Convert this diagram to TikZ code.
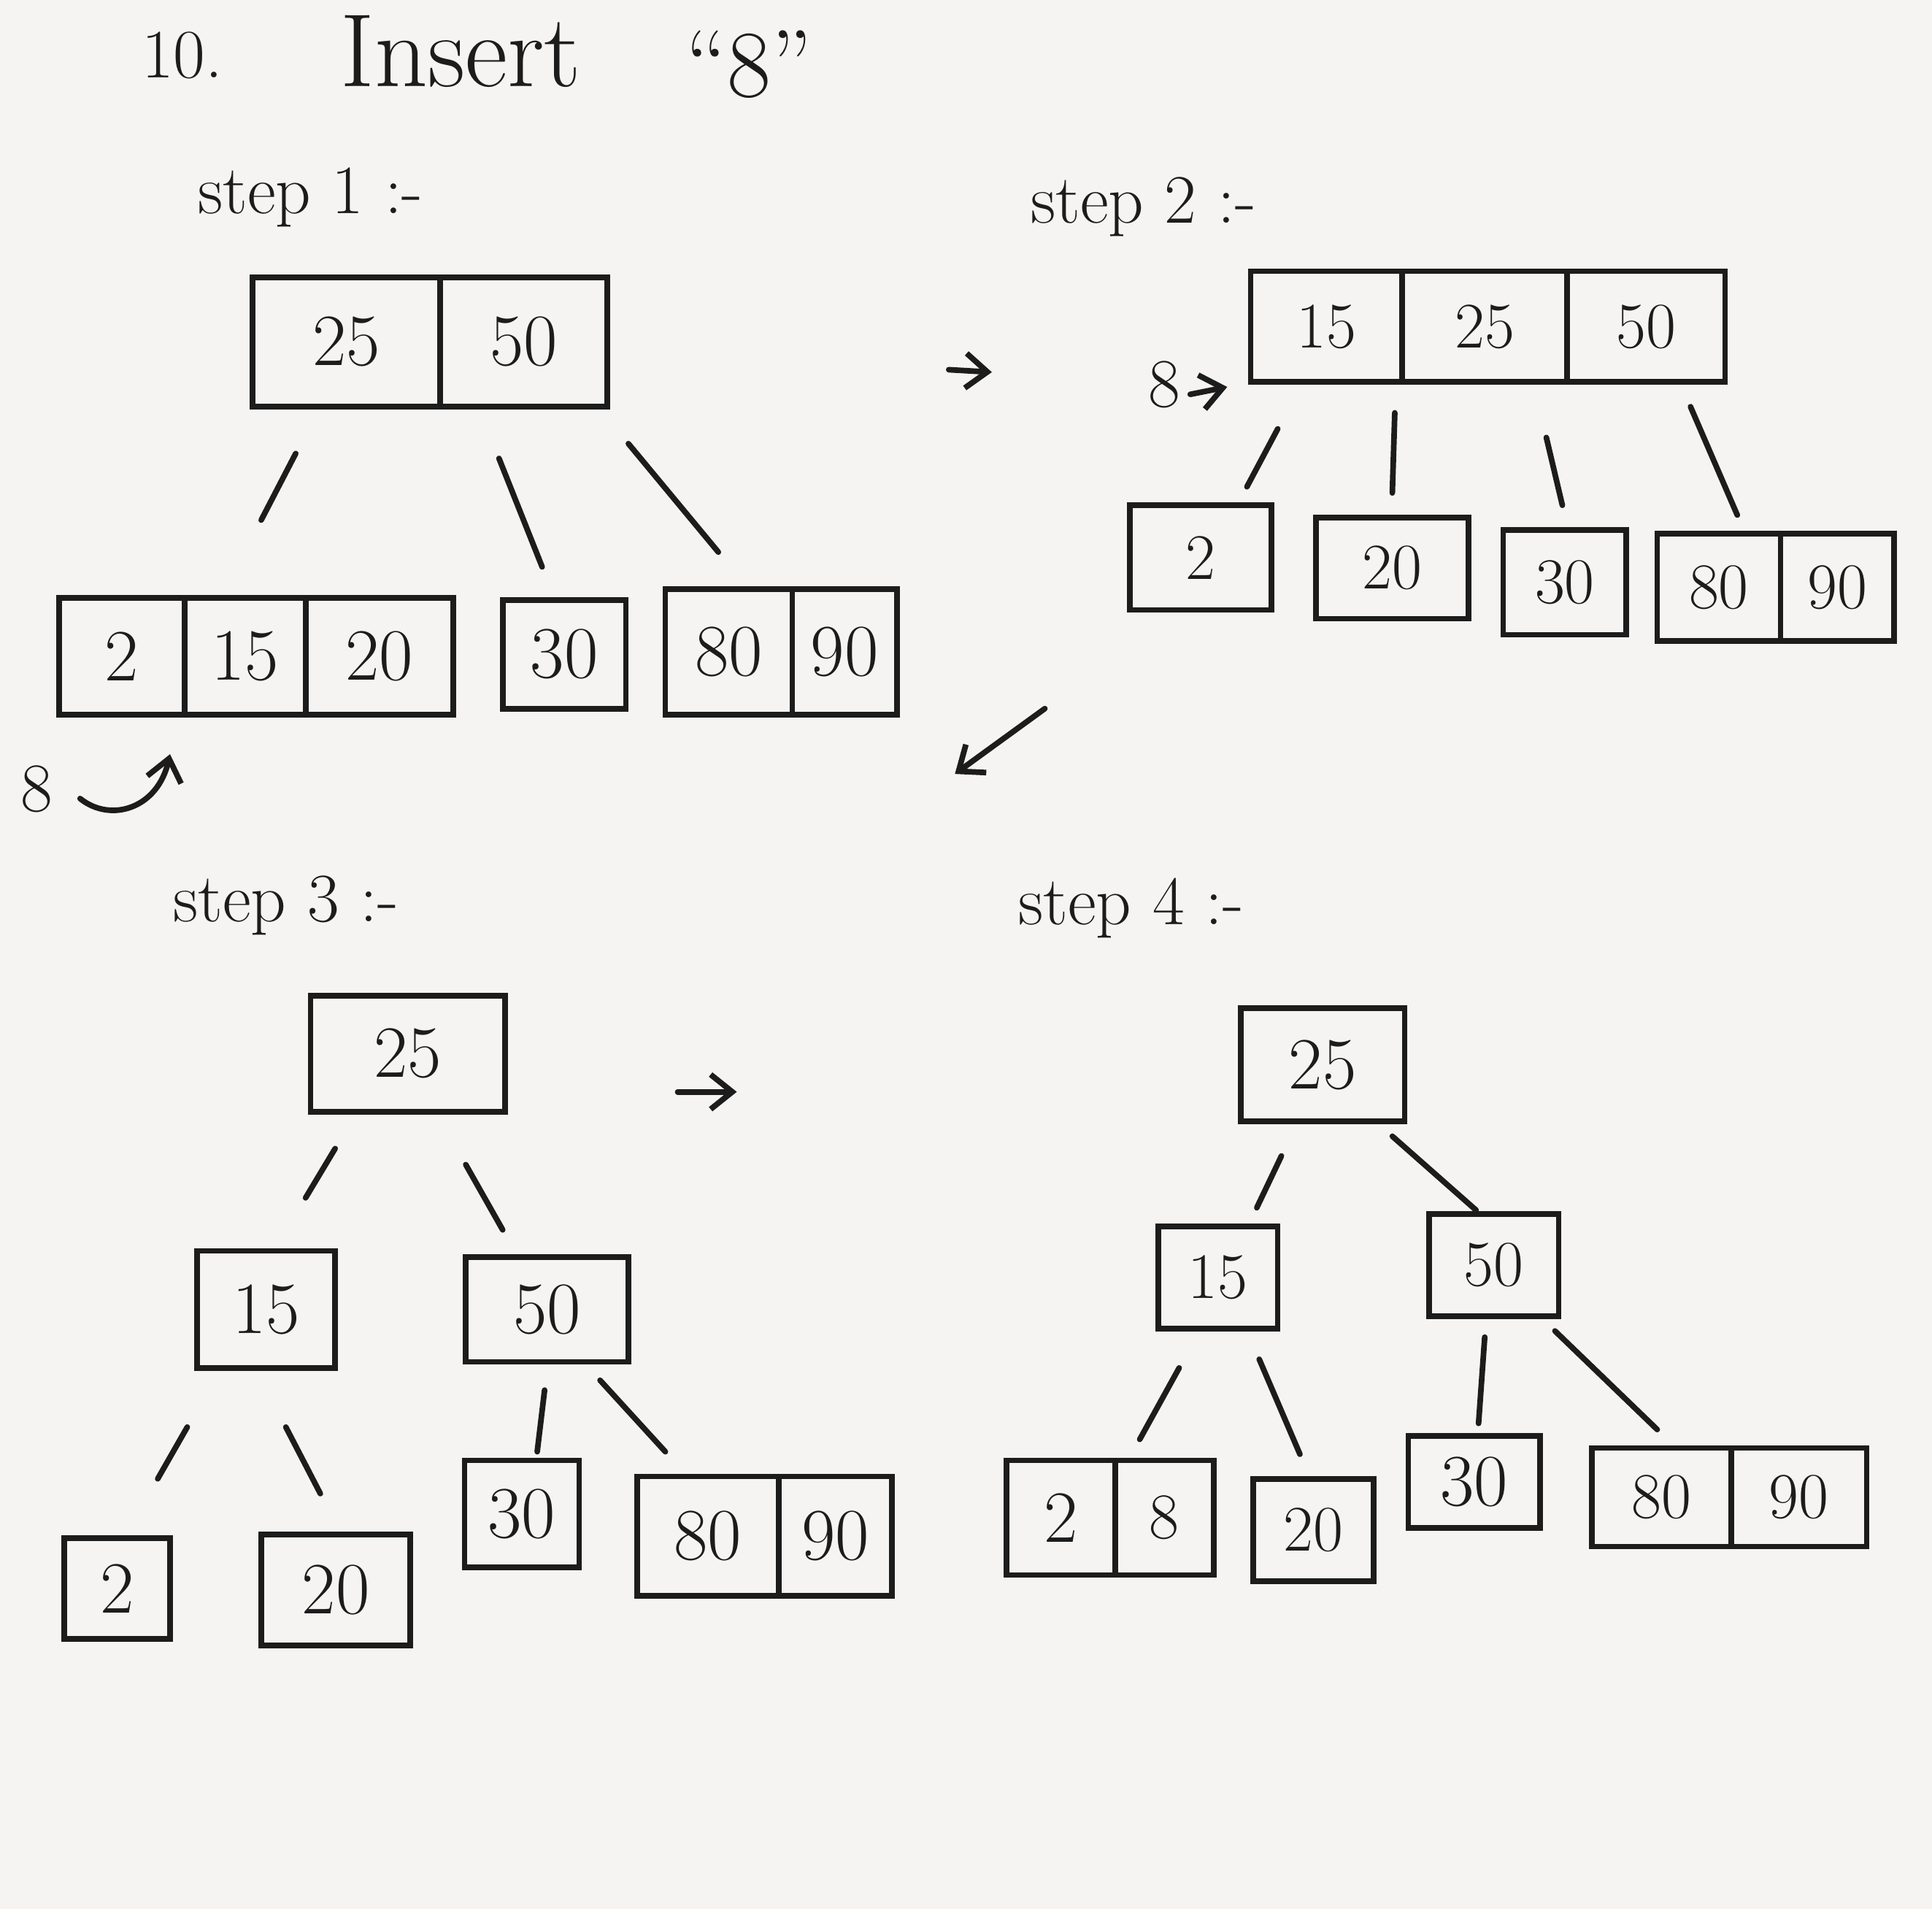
\documentclass[tikz,border=0pt]{standalone}
\usetikzlibrary{fit,arrows.meta}
\definecolor{paper}{RGB}{245,244,242}
\definecolor{ink}{RGB}{28,28,28}
\begin{document}
\begin{tikzpicture}[x=0.01cm,y=-0.01cm,
  cell/.style={draw=ink, line width=1.3pt, inner sep=0pt},
  ct/.style={text=ink, inner sep=0pt, font=\fontsize{17}{20}\selectfont},
  cs/.style={text=ink, inner sep=0pt, font=\fontsize{15}{18}\selectfont},
  edge/.style={draw=ink, line width=1.3pt, line cap=round},
  arr/.style={edge, -{Straight Barb[length=5pt,width=8pt]}},
  lbl/.style={text=ink, inner sep=0pt, font=\fontsize{16}{19}\selectfont}]
\fill[paper] (0,0) rectangle (1568,1549);
\useasboundingbox (0,0) rectangle (1568,1549);

% title
\node[lbl] (num) at (148,45) {10.};
\node[lbl, font=\fontsize{24}{28}\selectfont] (title) at (374,42) {Insert};
\node[lbl, font=\fontsize{22}{26}\selectfont] (eight) at (608,52) {“8”};

% step labels
\node[lbl] (l1) at (252,160) {step 1 :-};
\node[lbl] (l2) at (928,168) {step 2 :-};
\node[lbl] (l3) at (232,735) {step 3 :-};
\node[lbl] (l4) at (918,737) {step 4 :-};

% ---------- step 1 ----------
\node[cell, fit={(205,225)(357,330)}, label={[ct]center:25}] (s1r1) {};
\node[cell, fit={(357,225)(493,330)}, label={[ct]center:50}] (s1r2) {};
\node[cell, fit={(48,485)(150,580)}, label={[ct]center:2}] (s1a) {};
\node[cell, fit={(150,485)(248,580)}, label={[ct]center:15}] (s1b) {};
\node[cell, fit={(248,485)(368,580)}, label={[ct]center:20}] (s1c) {};
\node[cell, fit={(408,487)(508,575)}, label={[ct]center:30}] (s1d) {};
\node[cell, fit={(540,478)(643,580)}, label={[ct]center:80}] (s1e) {};
\node[cell, fit={(643,478)(728,580)}, label={[ct]center:90}] (s1f) {};
\coordinate (e11s) at (240,368); \coordinate (e11t) at (212,422);
\coordinate (e12s) at (405,372); \coordinate (e12t) at (440,460);
\coordinate (e13s) at (510,360); \coordinate (e13t) at (583,448);
\draw[edge] (e11s) -- (e11t);
\draw[edge] (e12s) -- (e12t);
\draw[edge] (e13s) -- (e13t);
\node[lbl] (in1) at (30,640) {8};
\coordinate (in1s) at (65,648); \coordinate (in1t) at (138,612);
\draw[arr] (in1s) .. controls (90,668) and (128,656) .. (in1t);

% arrow step1 -> step2
\coordinate (a1s) at (770,300); \coordinate (a1t) at (805,302);
\draw[arr] (a1s) -- (a1t);

% ---------- step 2 ----------
\node[cell, fit={(1015,220)(1138,310)}, label={[cs]center:15}] (s2r1) {};
\node[cell, fit={(1138,220)(1272,310)}, label={[cs]center:25}] (s2r2) {};
\node[cell, fit={(1272,220)(1400,310)}, label={[cs]center:50}] (s2r3) {};
\node[lbl] (in2) at (945,312) {8};
\coordinate (in2s) at (966,320); \coordinate (in2t) at (996,314);
\draw[arr] (in2s) -- (in2t);
\coordinate (e21s) at (1037,348); \coordinate (e21t) at (1012,395);
\coordinate (e22s) at (1132,335); \coordinate (e22t) at (1130,400);
\coordinate (e23s) at (1255,355); \coordinate (e23t) at (1268,410);
\coordinate (e24s) at (1372,330); \coordinate (e24t) at (1410,418);
\draw[edge] (e21s) -- (e21t);
\draw[edge] (e22s) -- (e22t);
\draw[edge] (e23s) -- (e23t);
\draw[edge] (e24s) -- (e24t);
\node[cell, fit={(917,410)(1032,495)}, label={[cs]center:2}] (s2a) {};
\node[cell, fit={(1068,420)(1192,502)}, label={[cs]center:20}] (s2b) {};
\node[cell, fit={(1220,430)(1320,515)}, label={[cs]center:30}] (s2c) {};
\node[cell, fit={(1345,433)(1445,520)}, label={[cs]center:80}] (s2d) {};
\node[cell, fit={(1445,433)(1537,520)}, label={[cs]center:90}] (s2e) {};

% arrow step2 -> step3
\coordinate (a2s) at (848,575); \coordinate (a2t) at (775,628);
\draw[arr] (a2s) -- (a2t);

% ---------- step 3 ----------
\node[cell, fit={(252,808)(410,902)}, label={[ct]center:25}] (s3r) {};
\coordinate (e31s) at (272,932); \coordinate (e31t) at (248,972);
\coordinate (e32s) at (378,945); \coordinate (e32t) at (408,998);
\draw[edge] (e31s) -- (e31t);
\draw[edge] (e32s) -- (e32t);
\node[cell, fit={(160,1015)(272,1110)}, label={[ct]center:15}] (s3l) {};
\node[cell, fit={(378,1020)(510,1105)}, label={[ct]center:50}] (s3m) {};
\coordinate (e33s) at (152,1158); \coordinate (e33t) at (128,1200);
\coordinate (e34s) at (232,1158); \coordinate (e34t) at (260,1212);
\coordinate (e35s) at (442,1128); \coordinate (e35t) at (436,1178);
\coordinate (e36s) at (487,1120); \coordinate (e36t) at (540,1178);
\draw[edge] (e33s) -- (e33t);
\draw[edge] (e34s) -- (e34t);
\draw[edge] (e35s) -- (e35t);
\draw[edge] (e36s) -- (e36t);
\node[cell, fit={(52,1248)(138,1330)}, label={[ct]center:2}] (s3a) {};
\node[cell, fit={(212,1245)(333,1335)}, label={[ct]center:20}] (s3b) {};
\node[cell, fit={(377,1185)(470,1272)}, label={[ct]center:30}] (s3c) {};
\node[cell, fit={(517,1198)(632,1295)}, label={[ct]center:80}] (s3d) {};
\node[cell, fit={(632,1198)(724,1295)}, label={[ct]center:90}] (s3e) {};

% arrow step3 -> step4
\coordinate (a3s) at (550,886); \coordinate (a3t) at (598,886);
\draw[arr] (a3s) -- (a3t);

% ---------- step 4 ----------
\node[cell, fit={(1007,818)(1140,910)}, label={[ct]center:25}] (s4r) {};
\coordinate (e41s) at (1040,938); \coordinate (e41t) at (1020,980);
\coordinate (e42s) at (1130,922); \coordinate (e42t) at (1198,982);
\draw[edge] (e41s) -- (e41t);
\draw[edge] (e42s) -- (e42t);
\node[cell, fit={(940,995)(1037,1078)}, label={[cs]center:15}] (s4l) {};
\node[cell, fit={(1160,985)(1265,1068)}, label={[cs]center:50}] (s4m) {};
\coordinate (e43s) at (957,1110); \coordinate (e43t) at (925,1168);
\coordinate (e44s) at (1022,1103); \coordinate (e44t) at (1055,1180);
\coordinate (e45s) at (1205,1085); \coordinate (e45t) at (1200,1155);
\coordinate (e46s) at (1262,1080); \coordinate (e46t) at (1345,1160);
\draw[edge] (e43s) -- (e43t);
\draw[edge] (e44s) -- (e44t);
\draw[edge] (e45s) -- (e45t);
\draw[edge] (e46s) -- (e46t);
\node[cell, fit={(817,1185)(905,1278)}, label={[ct]center:2}] (s4a) {};
\node[cell, fit={(905,1185)(985,1278)}, label={[cs]center:8}] (s4b) {};
\node[cell, fit={(1017,1200)(1115,1283)}, label={[cs]center:20}] (s4c) {};
\node[cell, fit={(1143,1165)(1250,1240)}, label={[ct]center:30}] (s4d) {};
\node[cell, fit={(1292,1175)(1405,1255)}, label={[cs]center:80}] (s4e) {};
\node[cell, fit={(1405,1175)(1515,1255)}, label={[cs]center:90}] (s4f) {};
\end{tikzpicture}
\end{document}
